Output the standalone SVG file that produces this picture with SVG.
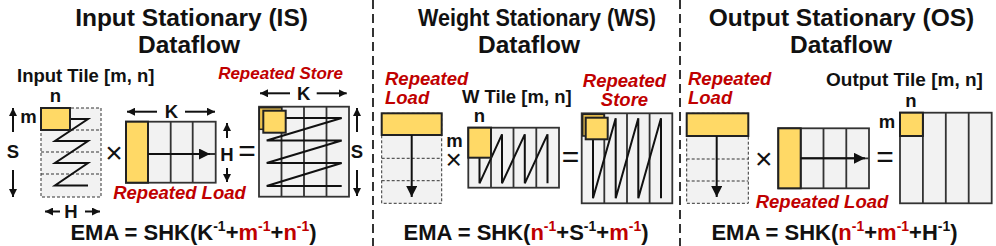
<svg xmlns="http://www.w3.org/2000/svg" width="996" height="246" viewBox="0 0 996 246">
<defs>
<marker id="ah" viewBox="0 0 10 10" refX="10" refY="5" markerWidth="8" markerHeight="8" markerUnits="userSpaceOnUse" orient="auto"><path d="M0,0 L10,5 L0,10 z" fill="#111"/></marker>
<marker id="ahL" viewBox="0 0 10 10" refX="10" refY="5" markerWidth="11" markerHeight="11" markerUnits="userSpaceOnUse" orient="auto"><path d="M0,0 L10,5 L0,10 z" fill="#111"/></marker>
</defs>
<style>
text{font-family:"Liberation Sans",Arial,Helvetica,sans-serif;font-weight:bold;fill:#111}
.title{font-size:24.5px;text-anchor:middle}
.lbl{font-size:18.5px}
.mid{text-anchor:middle}
.red{fill:#C00000;font-style:italic}
.r{fill:#C00000}
.ema{font-size:22px;text-anchor:middle}
.sym{font-size:30px;text-anchor:middle;font-weight:normal}
.mat{fill:#F2F2F2;stroke:#333;stroke-width:1.8}
.dash{fill:#F2F2F2;stroke:#333;stroke-width:1;stroke-dasharray:3 2}
.dl{fill:none;stroke:#333;stroke-width:1;stroke-dasharray:3 2}
.yel{fill:#FFD966;stroke:#222;stroke-width:2}
.yel2{fill:#EBC14E;stroke:#222;stroke-width:1.5}
.grid{stroke:#333;stroke-width:1.8;fill:none}
.zz{fill:none;stroke:#111;stroke-width:2}
.arr{stroke:#111;stroke-width:2;fill:none;marker-end:url(#ah)}
.arrL{stroke:#111;stroke-width:2;fill:none;marker-end:url(#ahL)}
.sep{stroke:#333;stroke-width:2;stroke-dasharray:9 5}
</style>
<rect width="996" height="246" fill="#fff"/>

<g id="separators">
<line class="sep" x1="373" y1="0" x2="373" y2="246"/>
<line class="sep" x1="680" y1="0" x2="680" y2="246"/>
</g>

<!-- IS panel -->
<g id="is-title">
<text class="title" x="191.5" y="26">Input Stationary (IS)</text>
<text class="title" x="189" y="53">Dataflow</text>
</g>
<g id="is-input-tile">
<text class="lbl" x="17" y="82">Input Tile [m, n]</text>
<rect class="dash" x="41" y="108" width="60" height="89"/>
<path class="dl" d="M41,130H101M41,152H101M41,174H101"/>
<polyline class="zz" points="55,119 88,119 55,141 88,141 55,163 88,163 55,185.5 88,185.5"/>
<rect class="yel" x="41" y="108" width="29" height="22"/>
<text class="lbl mid" x="55.5" y="102">n</text>
<text class="lbl mid" x="28.5" y="123">m</text>
<text class="lbl mid" x="13" y="158">S</text>
<text class="lbl mid" x="71" y="217.5">H</text>
</g>
<g id="is-op">
<text class="sym" x="114" y="163">×</text>
<text class="sym" x="247" y="161">=</text>
</g>
<g id="is-weight">
<rect class="mat" x="126" y="121.7" width="89.7" height="61"/>
<path class="grid" d="M170.7,121.7V182.7M192.7,121.7V182.7M148,154H215.7"/>
<rect class="yel" x="126" y="121.7" width="22" height="61"/>
<text class="lbl mid" x="171.5" y="118">K</text>
<text class="lbl mid" x="227" y="160.5">H</text>
<text class="lbl red mid" x="179.5" y="199">Repeated Load</text>
</g>
<g id="is-output">
<rect class="mat" x="259" y="106.7" width="90" height="90"/>
<path class="grid" d="M281.5,106.7V196.7M304,106.7V196.7M326.5,106.7V196.7"/>
<polyline class="zz" points="266.7,118 341.7,118 266.7,140.5 341.7,140.5 266.7,163 341.7,163 266.7,186 341.7,186"/>
<rect class="yel2" x="259.3" y="107.7" width="22.4" height="21.6"/>
<rect class="yel" x="263.3" y="110.7" width="22.4" height="22"/>
<text class="lbl mid" x="303.7" y="99.5">K</text>
<text class="lbl mid" x="357" y="158">S</text>
<text class="red mid" style="font-size:17px" x="280.5" y="79">Repeated Store</text>
</g>
<g id="is-ema">
<text class="ema" x="193.5" y="240">EMA = SHK(K<tspan font-size="14" dy="-9">-1</tspan><tspan dy="9">+</tspan><tspan class="r">m</tspan><tspan class="r" font-size="14" dy="-9">-1</tspan><tspan dy="9">+</tspan><tspan class="r">n</tspan><tspan class="r" font-size="14" dy="-9">-1</tspan><tspan dy="9">)</tspan></text>
</g>

<!-- WS panel -->
<g id="ws-title">
<text class="title" x="537" y="26" textLength="238" lengthAdjust="spacingAndGlyphs">Weight Stationary (WS)</text>
<text class="title" x="529" y="53">Dataflow</text>
</g>
<g id="ws-input">
<text class="lbl red" x="385" y="85">Repeated</text>
<text class="lbl red" x="385" y="104">Load</text>
<rect class="dash" x="381.7" y="113.3" width="60" height="90"/>
<path class="dl" d="M381.7,158.3H441.7M381.7,180.7H441.7"/>
<rect class="yel" x="381.7" y="113.3" width="60" height="21.7"/>
</g>
<g id="ws-op">
<text class="lbl mid" x="454.5" y="147">m</text>
<text class="sym" style="font-size:28px" x="453.7" y="169">×</text>
<text class="sym" x="570.5" y="167">=</text>
</g>
<g id="ws-weight">
<text class="lbl" x="462" y="103">W Tile [m, n]</text>
<rect class="mat" x="468.3" y="127.7" width="90.7" height="60"/>
<path class="grid" d="M491,127.7V187.7M513.5,127.7V187.7M536.3,127.7V187.7"/>
<polyline class="zz" points="479.5,134.3 479.5,183.3 502,134.3 502,183.3 524.8,134.3 524.8,183.3 547.5,134.3 547.5,183.3"/>
<rect class="yel" x="468.3" y="127.7" width="22.7" height="30"/>
<text class="lbl mid" x="479.5" y="121.7">n</text>
</g>
<g id="ws-output">
<rect class="mat" x="581.7" y="113.3" width="90.6" height="90"/>
<path class="grid" d="M604.3,113.3V203.3M627,113.3V203.3M649.6,113.3V203.3"/>
<polyline class="zz" points="593,118.3 593,198.3 615.7,118.3 615.7,198.3 638.3,118.3 638.3,198.3 661,118.3 661,198.3"/>
<rect class="yel2" x="582.7" y="114.3" width="21.3" height="21.7"/>
<rect class="yel" x="585.7" y="117.7" width="22" height="21.6"/>
<text class="lbl red mid" x="624.5" y="86.5">Repeated</text>
<text class="lbl red mid" x="624.5" y="105.5">Store</text>
</g>
<g id="ws-ema">
<text class="ema" x="526" y="240">EMA = SHK(<tspan class="r">n</tspan><tspan class="r" font-size="14" dy="-9">-1</tspan><tspan dy="9">+S</tspan><tspan font-size="14" dy="-9">-1</tspan><tspan dy="9">+</tspan><tspan class="r">m</tspan><tspan class="r" font-size="14" dy="-9">-1</tspan><tspan dy="9">)</tspan></text>
</g>

<!-- OS panel -->
<g id="os-title">
<text class="title" x="841.5" y="26">Output Stationary (OS)</text>
<text class="title" x="841" y="53">Dataflow</text>
</g>
<g id="os-input">
<text class="lbl red" x="688" y="85">Repeated</text>
<text class="lbl red" x="688" y="104">Load</text>
<rect class="dash" x="686.7" y="113.3" width="61.6" height="90"/>
<path class="dl" d="M686.7,159H748.3M686.7,181H748.3"/>
<rect class="yel" x="686.7" y="113.3" width="61.6" height="22.7"/>
</g>
<g id="os-op">
<text class="sym" x="763.7" y="168.5">×</text>
<text class="sym" x="885" y="166.5">=</text>
</g>
<g id="os-weight">
<rect class="mat" x="778.3" y="128.3" width="90.7" height="60"/>
<path class="grid" d="M800.7,128.3V188.3M823.5,128.3V188.3M846.3,128.3V188.3M800.7,158.3H869"/>
<rect class="yel" x="778.3" y="128.3" width="22.4" height="60"/>
<text class="lbl red mid" x="822" y="208">Repeated Load</text>
</g>
<g id="os-output">
<text class="lbl" style="font-size:19px" x="826" y="86">Output Tile [m, n]</text>
<rect class="mat" x="900" y="112.7" width="91.7" height="90.6"/>
<path class="grid" d="M922.9,112.7V203.3M945.8,112.7V203.3M968.7,112.7V203.3"/>
<rect class="yel" x="900" y="112.7" width="22.9" height="23.3"/>
<text class="lbl mid" x="887" y="128">m</text>
<text class="lbl mid" x="911" y="106.7">n</text>
</g>
<g id="os-ema">
<text class="ema" x="834.5" y="240">EMA = SHK(<tspan class="r">n</tspan><tspan class="r" font-size="14" dy="-9">-1</tspan><tspan dy="9">+</tspan><tspan class="r">m</tspan><tspan class="r" font-size="14" dy="-9">-1</tspan><tspan dy="9">+H</tspan><tspan font-size="14" dy="-9">-1</tspan><tspan dy="9">)</tspan></text>
</g>

<g id="connectors">
<line class="arr" x1="13" y1="132" x2="13" y2="108"/>
<line class="arr" x1="13" y1="170" x2="13" y2="197"/>
<line class="arr" x1="60" y1="211.5" x2="45" y2="211.5"/>
<line class="arr" x1="85" y1="211.5" x2="100" y2="211.5"/>
<line class="arr" x1="157" y1="111.7" x2="127" y2="111.7"/>
<line class="arr" x1="185" y1="111.7" x2="215" y2="111.7"/>
<line class="arr" x1="227" y1="138" x2="227" y2="123"/>
<line class="arr" x1="227" y1="168" x2="227" y2="182"/>
<line class="arrL" x1="148" y1="154" x2="210" y2="154"/>
<line class="arr" x1="290" y1="93.3" x2="260" y2="93.3"/>
<line class="arr" x1="316.7" y1="93.3" x2="346.7" y2="93.3"/>
<line class="arr" x1="357" y1="132" x2="357" y2="108"/>
<line class="arr" x1="357" y1="170" x2="357" y2="196"/>
<line class="arrL" x1="411.7" y1="135" x2="411.7" y2="197"/>
<line class="arrL" x1="716.7" y1="136" x2="716.7" y2="197"/>
<line class="arrL" x1="800.7" y1="158.3" x2="865" y2="158.3"/>
</g>
</svg>
